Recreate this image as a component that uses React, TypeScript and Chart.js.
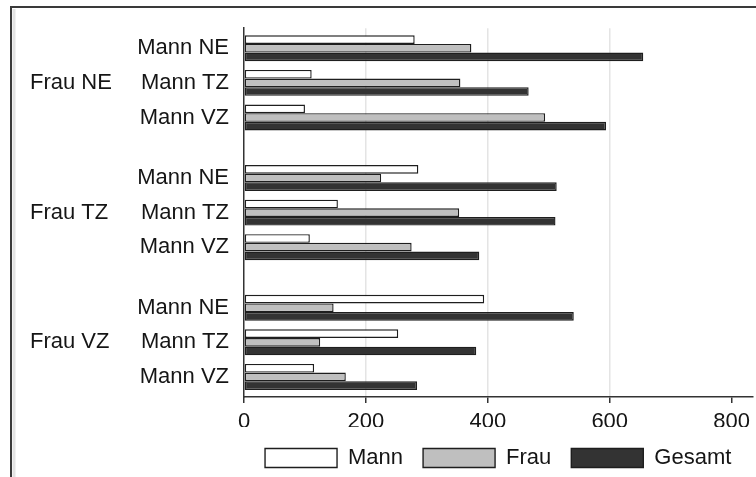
import React, { useEffect, useRef } from "react";
import { Chart, registerables } from "chart.js";

Chart.register(...registerables);

// ---- data ----
const GROUPS = ["Frau NE", "Frau TZ", "Frau VZ"];
const SUBGROUPS = ["Mann NE", "Mann TZ", "Mann VZ"];
const SERIES = ["Mann", "Frau", "Gesamt"];
const MANN = [280, 111, 100, 286, 154, 108, 394, 253, 115];
const FRAU = [373, 355, 494, 225, 353, 275, 147, 125, 167];
const GESAMT = [655, 467, 594, 513, 511, 386, 541, 381, 284];
const X_TICKS = [0, 200, 400, 600, 800];

// ---- layout constants ----
const GROUP_GAP = 0.75;
const POSITIONS: number[] = [];
GROUPS.forEach((_, g) => {
  SUBGROUPS.forEach((__, s) => {
    POSITIONS.push(g * (SUBGROUPS.length + GROUP_GAP) + s);
  });
});
const GROUP_CENTERS = GROUPS.map(
  (_, g) => g * (SUBGROUPS.length + GROUP_GAP) + (SUBGROUPS.length - 1) / 2
);

const FONT = '"Liberation Sans", Arial, Helvetica, sans-serif';
const TEXT = "#151515";
const EDGE = "#1e1e1e";

const framePlugin = {
  id: "frame",
  beforeDraw(chart: any) {
    const ctx = chart.ctx;
    ctx.save();
    ctx.fillStyle = "#ffffff";
    ctx.fillRect(0, 0, chart.width, chart.height);
    ctx.strokeStyle = "#e3e3e3";
    ctx.lineWidth = 3;
    ctx.beginPath();
    ctx.moveTo(14, 9);
    ctx.lineTo(14, chart.height);
    ctx.stroke();
    ctx.strokeStyle = "#3a3a3a";
    ctx.lineWidth = 2;
    ctx.beginPath();
    ctx.moveTo(11, chart.height);
    ctx.lineTo(11, 7);
    ctx.lineTo(chart.width, 7);
    ctx.stroke();
    ctx.restore();
  },
};

export default function App() {
  const ref = useRef<HTMLCanvasElement | null>(null);

  useEffect(() => {
    document.body.style.margin = "0";
    const canvas = ref.current;
    if (!canvas) return;
    Chart.defaults.font.family = FONT;

    const toPoints = (vals: number[]) =>
      vals.map((v, i) => ({ x: v, y: POSITIONS[i] }));

    const fills = ["#ffffff", "#bfbfbf", "#333333"];
    const seriesVals = [MANN, FRAU, GESAMT];

    const chart = new Chart(canvas, {
      type: "bar",
      data: {
        datasets: SERIES.map((name, k) => ({
          label: name,
          data: toPoints(seriesVals[k]) as any,
          backgroundColor: fills[k],
          borderColor: EDGE,
          borderWidth: 1.4,
          borderSkipped: false,
          categoryPercentage: 0.75,
          barPercentage: 1,
          xAxisID: "x",
          yAxisID: "y",
        })),
      },
      options: {
        indexAxis: "y",
        animation: false,
        responsive: false,
        maintainAspectRatio: false,
        devicePixelRatio: 1,
        layout: { padding: { left: 30, top: 28, right: 0, bottom: -2 } },
        scales: {
          x: {
            type: "linear",
            min: 0,
            max: 834,
            offset: false,
            afterBuildTicks: (s: any) => {
              s.ticks = X_TICKS.map((v) => ({ value: v }));
            },
            grid: {
              color: (c: any) =>
                c.tick && (c.tick.value === 0 || c.tick.value === 800)
                  ? "rgba(0,0,0,0)"
                  : "#e4e4e4",
              lineWidth: 1.5,
              tickLength: 6,
              tickColor: "#333333",
              tickWidth: 1.5,
            },
            border: { color: "#333333", width: 1.5 },
            ticks: {
              padding: 6,
              font: { size: 22 },
              color: TEXT,
              maxRotation: 0,
              autoSkip: false,
            },
            afterFit: (s: any) => {
              s.height = 30;
            },
          },
          y: {
            type: "linear",
            axis: "y",
            position: "left",
            reverse: true,
            offset: false,
            min: -0.58,
            max: 10.08,
            weight: 0,
            afterBuildTicks: (s: any) => {
              s.ticks = POSITIONS.map((v) => ({ value: v }));
            },
            ticks: {
              callback: (_v: any, i: number) => SUBGROUPS[i % SUBGROUPS.length],
              padding: 15,
              font: { size: 22 },
              color: TEXT,
              autoSkip: false,
            },
            grid: { display: false, drawTicks: false, offset: false },
            border: { color: "#333333", width: 1.5 },
            afterFit: (s: any) => {
              s.width = 122;
            },
          },
          yGroup: {
            type: "linear",
            axis: "y",
            position: "left",
            reverse: true,
            offset: false,
            min: -0.58,
            max: 10.08,
            weight: 1,
            afterBuildTicks: (s: any) => {
              s.ticks = GROUP_CENTERS.map((v) => ({ value: v }));
            },
            ticks: {
              callback: (_v: any, i: number) => GROUPS[i],
              padding: 0,
              crossAlign: "far",
              font: { size: 22 },
              color: TEXT,
              autoSkip: false,
            },
            grid: { display: false, drawTicks: false },
            border: { display: false },
            afterFit: (s: any) => {
              s.width = 92;
            },
          },
        } as any,
        plugins: {
          legend: {
            position: "bottom",
            fullSize: false,
            labels: {
              boxWidth: 72,
              boxHeight: 19,
              padding: 20,
              font: { size: 22 },
              color: TEXT,
            },
          },
          tooltip: { enabled: false },
        },
      },
      plugins: [framePlugin],
    });

    return () => chart.destroy();
  }, []);

  return (
    <div style={{ width: 756, height: 477, position: "relative" }}>
      <canvas
        ref={ref}
        width={756}
        height={477}
        style={{ display: "block", width: 756, height: 477 }}
      />
    </div>
  );
}
